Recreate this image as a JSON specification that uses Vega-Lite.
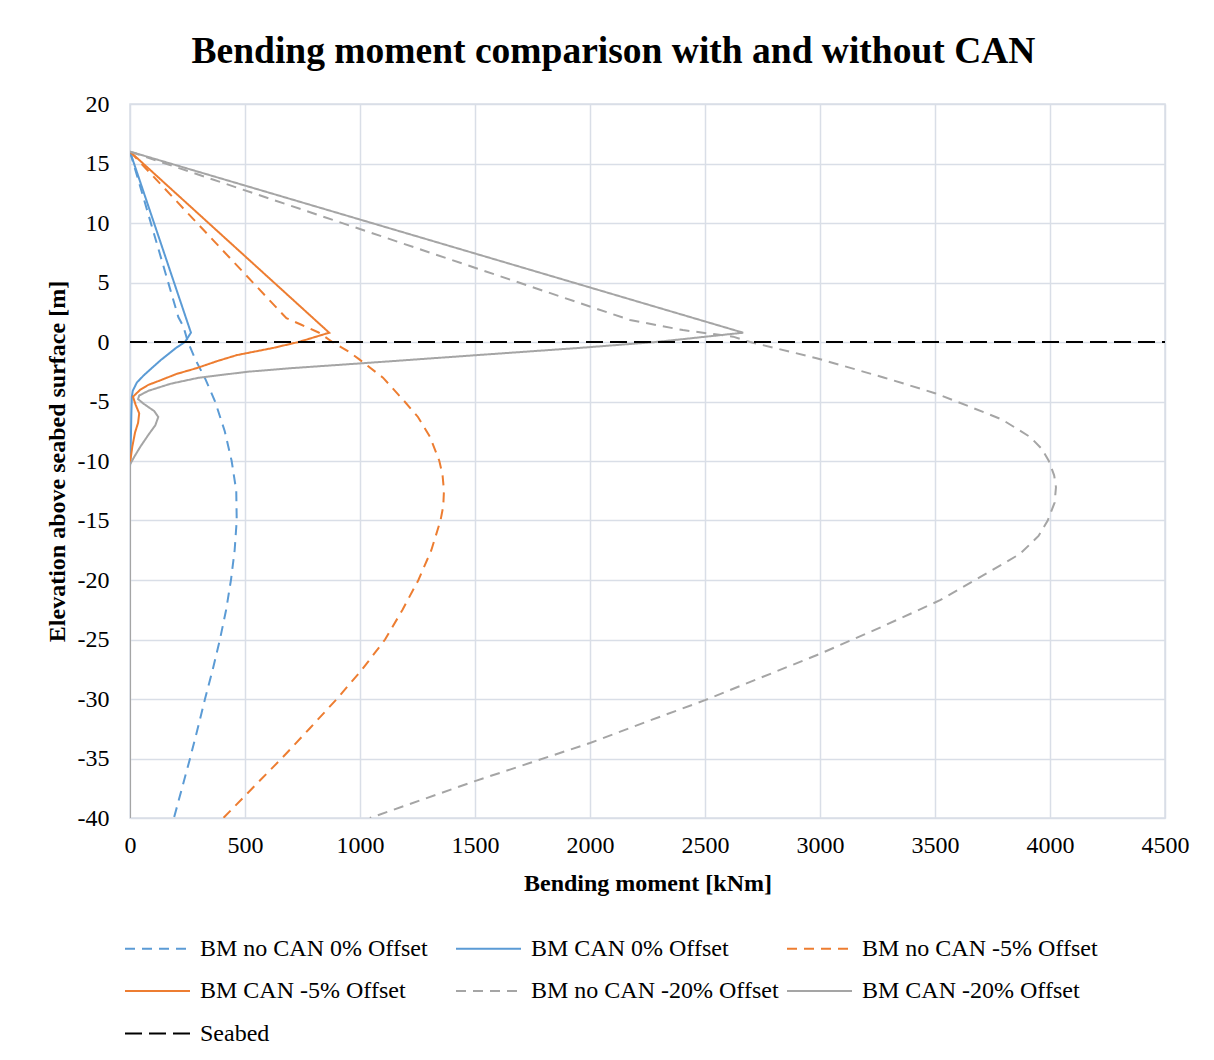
{
  "$schema": "https://vega.github.io/schema/vega-lite/v6.json",
  "autosize": {"type": "none"},
  "width": 1035,
  "height": 714,
  "padding": {"left": 130, "top": 104, "right": 49, "bottom": 242},
  "background": "#ffffff",
  "title": {
    "text": "Bending moment comparison with and without CAN",
    "font": "Liberation Serif",
    "fontSize": 37.5,
    "fontWeight": "bold",
    "color": "#000000",
    "anchor": "middle",
    "frame": "group",
    "baseline": "alphabetic",
    "offset": 41,
    "dx": -34,
    "dy": 49
  },
  "config": {
    "view": {"stroke": "#D9DEE7", "strokeWidth": 1.5},
    "font": "Liberation Serif",
    "axis": {
      "labelFont": "Liberation Serif",
      "labelFontSize": 24,
      "labelColor": "#000000",
      "labelFlush": false,
      "titleFont": "Liberation Serif",
      "titleFontSize": 24,
      "titleFontWeight": "bold",
      "titleColor": "#000000",
      "gridColor": "#D9DEE7",
      "gridWidth": 1.5,
      "domain": false,
      "ticks": false
    }
  },
  "data": {
    "values": [
      {"s": "BM no CAN 0% Offset", "m": 0, "z": 16},
      {"s": "BM no CAN 0% Offset", "m": 210, "z": 2.1},
      {"s": "BM no CAN 0% Offset", "m": 232, "z": 1.3},
      {"s": "BM no CAN 0% Offset", "m": 252, "z": 0},
      {"s": "BM no CAN 0% Offset", "m": 285, "z": -1.5},
      {"s": "BM no CAN 0% Offset", "m": 325, "z": -3},
      {"s": "BM no CAN 0% Offset", "m": 370, "z": -5},
      {"s": "BM no CAN 0% Offset", "m": 412, "z": -7.5},
      {"s": "BM no CAN 0% Offset", "m": 442, "z": -10},
      {"s": "BM no CAN 0% Offset", "m": 462, "z": -12.5},
      {"s": "BM no CAN 0% Offset", "m": 464, "z": -15},
      {"s": "BM no CAN 0% Offset", "m": 455, "z": -17.5},
      {"s": "BM no CAN 0% Offset", "m": 439, "z": -20},
      {"s": "BM no CAN 0% Offset", "m": 418, "z": -22.5},
      {"s": "BM no CAN 0% Offset", "m": 391, "z": -25},
      {"s": "BM no CAN 0% Offset", "m": 360, "z": -27.5},
      {"s": "BM no CAN 0% Offset", "m": 326, "z": -30},
      {"s": "BM no CAN 0% Offset", "m": 294, "z": -32.5},
      {"s": "BM no CAN 0% Offset", "m": 261, "z": -35},
      {"s": "BM no CAN 0% Offset", "m": 226, "z": -37.5},
      {"s": "BM no CAN 0% Offset", "m": 191, "z": -40},

      {"s": "BM CAN 0% Offset", "m": 0, "z": 16},
      {"s": "BM CAN 0% Offset", "m": 265, "z": 0.78},
      {"s": "BM CAN 0% Offset", "m": 239, "z": 0},
      {"s": "BM CAN 0% Offset", "m": 200, "z": -0.5},
      {"s": "BM CAN 0% Offset", "m": 174, "z": -0.9},
      {"s": "BM CAN 0% Offset", "m": 135, "z": -1.5},
      {"s": "BM CAN 0% Offset", "m": 100, "z": -2.1},
      {"s": "BM CAN 0% Offset", "m": 60, "z": -2.8},
      {"s": "BM CAN 0% Offset", "m": 30, "z": -3.4},
      {"s": "BM CAN 0% Offset", "m": 12, "z": -4.1},
      {"s": "BM CAN 0% Offset", "m": 8, "z": -4.6},
      {"s": "BM CAN 0% Offset", "m": 6, "z": -6},
      {"s": "BM CAN 0% Offset", "m": 4, "z": -8},
      {"s": "BM CAN 0% Offset", "m": 2, "z": -9.5},
      {"s": "BM CAN 0% Offset", "m": 0, "z": -10.5},
      {"s": "BM CAN 0% Offset", "m": 0, "z": -40},

      {"s": "BM no CAN -5% Offset", "m": 0, "z": 16},
      {"s": "BM no CAN -5% Offset", "m": 680, "z": 2.0},
      {"s": "BM no CAN -5% Offset", "m": 745, "z": 1.45},
      {"s": "BM no CAN -5% Offset", "m": 820, "z": 0.8},
      {"s": "BM no CAN -5% Offset", "m": 880, "z": 0},
      {"s": "BM no CAN -5% Offset", "m": 950, "z": -0.8},
      {"s": "BM no CAN -5% Offset", "m": 1000, "z": -1.5},
      {"s": "BM no CAN -5% Offset", "m": 1100, "z": -3},
      {"s": "BM no CAN -5% Offset", "m": 1188, "z": -4.87},
      {"s": "BM no CAN -5% Offset", "m": 1252, "z": -6.3},
      {"s": "BM no CAN -5% Offset", "m": 1305, "z": -8},
      {"s": "BM no CAN -5% Offset", "m": 1345, "z": -10},
      {"s": "BM no CAN -5% Offset", "m": 1359, "z": -11.2},
      {"s": "BM no CAN -5% Offset", "m": 1365, "z": -12.5},
      {"s": "BM no CAN -5% Offset", "m": 1362, "z": -13.8},
      {"s": "BM no CAN -5% Offset", "m": 1350, "z": -15},
      {"s": "BM no CAN -5% Offset", "m": 1310, "z": -17.5},
      {"s": "BM no CAN -5% Offset", "m": 1254, "z": -20},
      {"s": "BM no CAN -5% Offset", "m": 1185, "z": -22.5},
      {"s": "BM no CAN -5% Offset", "m": 1109, "z": -25},
      {"s": "BM no CAN -5% Offset", "m": 1010, "z": -27.5},
      {"s": "BM no CAN -5% Offset", "m": 899, "z": -30},
      {"s": "BM no CAN -5% Offset", "m": 780, "z": -32.5},
      {"s": "BM no CAN -5% Offset", "m": 659, "z": -35},
      {"s": "BM no CAN -5% Offset", "m": 532, "z": -37.5},
      {"s": "BM no CAN -5% Offset", "m": 406, "z": -40},

      {"s": "BM CAN -5% Offset", "m": 0, "z": 16},
      {"s": "BM CAN -5% Offset", "m": 866, "z": 0.78},
      {"s": "BM CAN -5% Offset", "m": 733, "z": 0},
      {"s": "BM CAN -5% Offset", "m": 622, "z": -0.5},
      {"s": "BM CAN -5% Offset", "m": 465, "z": -1.1},
      {"s": "BM CAN -5% Offset", "m": 380, "z": -1.6},
      {"s": "BM CAN -5% Offset", "m": 289, "z": -2.2},
      {"s": "BM CAN -5% Offset", "m": 200, "z": -2.7},
      {"s": "BM CAN -5% Offset", "m": 135, "z": -3.2},
      {"s": "BM CAN -5% Offset", "m": 80, "z": -3.6},
      {"s": "BM CAN -5% Offset", "m": 45, "z": -4.0},
      {"s": "BM CAN -5% Offset", "m": 13, "z": -4.6},
      {"s": "BM CAN -5% Offset", "m": 25, "z": -5.3},
      {"s": "BM CAN -5% Offset", "m": 40, "z": -6.0},
      {"s": "BM CAN -5% Offset", "m": 35, "z": -6.8},
      {"s": "BM CAN -5% Offset", "m": 22, "z": -7.6},
      {"s": "BM CAN -5% Offset", "m": 10, "z": -8.8},
      {"s": "BM CAN -5% Offset", "m": 0, "z": -10.2},
      {"s": "BM CAN -5% Offset", "m": 0, "z": -40},

      {"s": "BM no CAN -20% Offset", "m": 0, "z": 16},
      {"s": "BM no CAN -20% Offset", "m": 2174, "z": 1.85},
      {"s": "BM no CAN -20% Offset", "m": 2404, "z": 1.0},
      {"s": "BM no CAN -20% Offset", "m": 2622, "z": 0.45},
      {"s": "BM no CAN -20% Offset", "m": 2696, "z": 0},
      {"s": "BM no CAN -20% Offset", "m": 2985, "z": -1.36},
      {"s": "BM no CAN -20% Offset", "m": 3280, "z": -3},
      {"s": "BM no CAN -20% Offset", "m": 3500, "z": -4.3},
      {"s": "BM no CAN -20% Offset", "m": 3594, "z": -5},
      {"s": "BM no CAN -20% Offset", "m": 3790, "z": -6.5},
      {"s": "BM no CAN -20% Offset", "m": 3915, "z": -8},
      {"s": "BM no CAN -20% Offset", "m": 3965, "z": -9},
      {"s": "BM no CAN -20% Offset", "m": 3995, "z": -10},
      {"s": "BM no CAN -20% Offset", "m": 4018, "z": -11.2},
      {"s": "BM no CAN -20% Offset", "m": 4026, "z": -12.2},
      {"s": "BM no CAN -20% Offset", "m": 4020, "z": -13.5},
      {"s": "BM no CAN -20% Offset", "m": 3990, "z": -15},
      {"s": "BM no CAN -20% Offset", "m": 3950, "z": -16.3},
      {"s": "BM no CAN -20% Offset", "m": 3870, "z": -17.8},
      {"s": "BM no CAN -20% Offset", "m": 3674, "z": -20},
      {"s": "BM no CAN -20% Offset", "m": 3522, "z": -21.7},
      {"s": "BM no CAN -20% Offset", "m": 3261, "z": -24},
      {"s": "BM no CAN -20% Offset", "m": 3000, "z": -26.2},
      {"s": "BM no CAN -20% Offset", "m": 2500, "z": -30.1},
      {"s": "BM no CAN -20% Offset", "m": 2261, "z": -31.8},
      {"s": "BM no CAN -20% Offset", "m": 2000, "z": -33.7},
      {"s": "BM no CAN -20% Offset", "m": 1500, "z": -36.9},
      {"s": "BM no CAN -20% Offset", "m": 1043, "z": -40},

      {"s": "BM CAN -20% Offset", "m": 0, "z": 16},
      {"s": "BM CAN -20% Offset", "m": 2666, "z": 0.78},
      {"s": "BM CAN -20% Offset", "m": 2286, "z": 0},
      {"s": "BM CAN -20% Offset", "m": 1952, "z": -0.5},
      {"s": "BM CAN -20% Offset", "m": 1510, "z": -1.1},
      {"s": "BM CAN -20% Offset", "m": 1000, "z": -1.8},
      {"s": "BM CAN -20% Offset", "m": 700, "z": -2.2},
      {"s": "BM CAN -20% Offset", "m": 511, "z": -2.5},
      {"s": "BM CAN -20% Offset", "m": 300, "z": -3},
      {"s": "BM CAN -20% Offset", "m": 178, "z": -3.5},
      {"s": "BM CAN -20% Offset", "m": 80, "z": -4.1},
      {"s": "BM CAN -20% Offset", "m": 40, "z": -4.5},
      {"s": "BM CAN -20% Offset", "m": 35, "z": -4.8},
      {"s": "BM CAN -20% Offset", "m": 60, "z": -5.2},
      {"s": "BM CAN -20% Offset", "m": 105, "z": -5.8},
      {"s": "BM CAN -20% Offset", "m": 123, "z": -6.3},
      {"s": "BM CAN -20% Offset", "m": 110, "z": -7},
      {"s": "BM CAN -20% Offset", "m": 80, "z": -7.8},
      {"s": "BM CAN -20% Offset", "m": 45, "z": -8.8},
      {"s": "BM CAN -20% Offset", "m": 20, "z": -9.6},
      {"s": "BM CAN -20% Offset", "m": 0, "z": -10.3},
      {"s": "BM CAN -20% Offset", "m": 0, "z": -40},

      {"s": "Seabed", "m": 0, "z": 0},
      {"s": "Seabed", "m": 4500, "z": 0}
    ]
  },
  "mark": {"type": "line", "interpolate": "linear", "clip": true},
  "encoding": {
    "x": {
      "field": "m",
      "type": "quantitative",
      "title": "Bending moment [kNm]",
      "scale": {"domain": [0, 4500], "nice": false, "zero": false},
      "axis": {
        "values": [0, 500, 1000, 1500, 2000, 2500, 3000, 3500, 4000, 4500],
        "labelExpr": "'' + datum.value",
        "labelPadding": 15,
        "titleBaseline": "alphabetic",
        "titleY": 72
      }
    },
    "y": {
      "field": "z",
      "type": "quantitative",
      "title": "Elevation above seabed surface [m]",
      "scale": {"domain": [-40, 20], "nice": false, "zero": false},
      "axis": {
        "values": [-40, -35, -30, -25, -20, -15, -10, -5, 0, 5, 10, 15, 20],
        "labelExpr": "datum.value < 0 ? '-' + abs(datum.value) : '' + datum.value",
        "labelPadding": 21,
        "titleAngle": -90,
        "titleAlign": "center",
        "titleBaseline": "alphabetic",
        "titleX": -66,
        "titleY": 357
      }
    },
    "order": {"field": "z", "sort": "descending"},
    "color": {
      "field": "s",
      "type": "nominal",
      "title": null,
      "scale": {
        "domain": ["BM no CAN 0% Offset", "BM CAN 0% Offset", "BM no CAN -5% Offset", "BM CAN -5% Offset", "BM no CAN -20% Offset", "BM CAN -20% Offset", "Seabed"],
        "range": ["#5B9BD5", "#5B9BD5", "#ED7D31", "#ED7D31", "#A5A5A5", "#A5A5A5", "#000000"]
      },
      "legend": {
        "orient": "none",
        "legendX": 14,
        "legendY": 831,
        "direction": "horizontal",
        "columns": 3,
        "gridAlign": "all",
        "columnPadding": 4,
        "rowPadding": 16.5,
        "symbolType": "M-2.6,0H2.6",
        "symbolSize": 625,
        "symbolStrokeWidth": 2,
        "labelFont": "Liberation Serif",
        "labelFontSize": 24,
        "labelColor": "#000000",
        "labelOffset": 29,
        "labelLimit": 0
      }
    },
    "strokeDash": {
      "field": "s",
      "type": "nominal",
      "title": null,
      "scale": {
        "domain": ["BM no CAN 0% Offset", "BM CAN 0% Offset", "BM no CAN -5% Offset", "BM CAN -5% Offset", "BM no CAN -20% Offset", "BM CAN -20% Offset", "Seabed"],
        "range": [[10, 7], [1, 0], [10, 7], [1, 0], [10, 7], [1, 0], [17, 7]]
      }
    },
    "strokeWidth": {
      "field": "s",
      "type": "nominal",
      "legend": null,
      "scale": {
        "domain": ["BM no CAN 0% Offset", "BM CAN 0% Offset", "BM no CAN -5% Offset", "BM CAN -5% Offset", "BM no CAN -20% Offset", "BM CAN -20% Offset", "Seabed"],
        "range": [2, 2, 2, 2, 2, 2, 2.5]
      }
    }
  }
}
